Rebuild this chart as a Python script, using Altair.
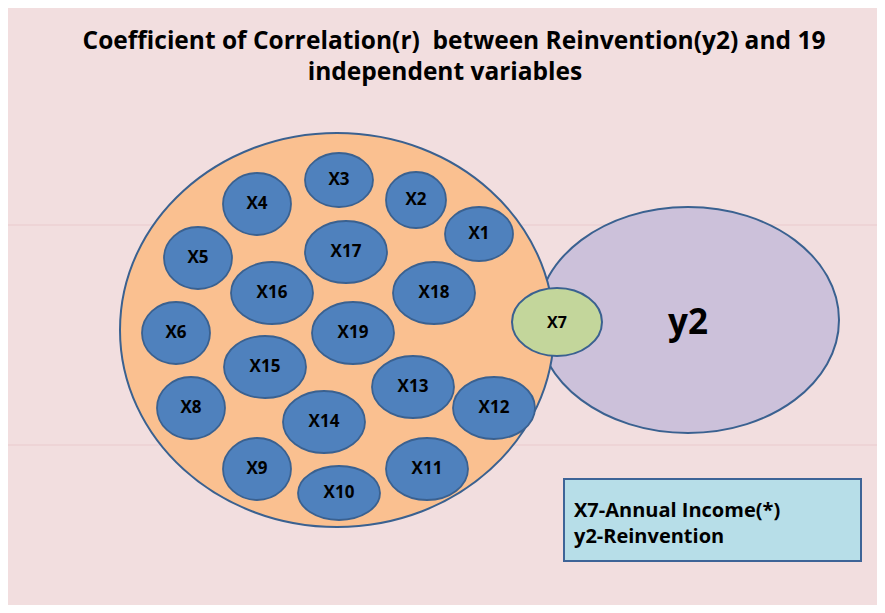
import altair as alt
import pandas as pd

# ---------------- data ----------------
title_lines = ["Coefficient of Correlation(r)\u00a0\u00a0between Reinvention(y2) and 19",
               "independent variables"]
title_x = [454, 445]
title_y = [49, 80]

# small independent-variable ellipses (centre x, centre y, half width, half height)
var_labels = ["X1", "X2", "X3", "X4", "X5", "X6", "X8", "X9", "X10", "X11",
              "X12", "X13", "X14", "X15", "X16", "X17", "X18", "X19"]
var_cx = [479, 416, 339, 257, 198, 176, 191, 257, 339, 427,
          494, 413, 324, 265, 272, 346, 434, 353]
var_cy = [234, 200, 180, 204, 258, 333, 408, 469, 493, 469,
          408, 387, 422, 367, 293, 252, 293, 333]
var_rx = [34, 30, 34, 34, 34, 34, 34, 34, 41, 41,
          41, 41, 41, 41, 41, 41, 41, 41]
var_ry = [27, 28, 27, 31, 31, 31, 31, 31, 27, 31,
          31, 31, 31, 31, 31, 31, 31, 31]

# large shapes
big_names = ["y2", "group", "X7"]
big_cx = [688, 337, 557]
big_cy = [320, 330, 322]
big_rx = [151, 217, 45]
big_ry = [113, 197, 34]
big_fill = ["#CCC1DA", "#FAC090", "#C3D69B"]

big_text = ["y2", "X7"]
big_text_x = [688, 557]
big_text_y = [323, 323]
big_text_size = [35, 16]

legend_lines = ["X7-Annual Income(*)", "y2-Reinvention"]
legend_x = [574, 574]
legend_y = [517, 543]
box_x, box_x2, box_y, box_y2 = 564, 861, 479, 561

rule_y = [225, 445]

# ---------------- helpers ----------------
K = 0.5523


def ellipse_path(k):
    a = K * k
    return (f"M -1 0 C -1 {-a:.4f} {-K} {-k:.4f} 0 {-k:.4f} "
            f"C {K} {-k:.4f} 1 {-a:.4f} 1 0 "
            f"C 1 {a:.4f} {K} {k:.4f} 0 {k:.4f} "
            f"C {-K} {k:.4f} -1 {a:.4f} -1 0 Z")


W, H = 869, 597
X = alt.Scale(domain=[8, 8 + W], nice=False, zero=False)
Y = alt.Scale(domain=[8, 8 + H], nice=False, zero=False, reverse=True)


def xe(f):
    return alt.X(f, type="quantitative", scale=X, axis=None)


def ye(f):
    return alt.Y(f, type="quantitative", scale=Y, axis=None)


FONT = "Open Sans"
STROKE = "#3A6190"

big_df = pd.DataFrame({
    "name": big_names, "cx": big_cx, "cy": big_cy,
    "path": [ellipse_path(ry / rx) for rx, ry in zip(big_rx, big_ry)],
    "size": [4 * rx * rx for rx in big_rx],
})
var_df = pd.DataFrame({
    "label": var_labels, "cx": var_cx, "cy": var_cy,
    "path": [ellipse_path(ry / rx) for rx, ry in zip(var_rx, var_ry)],
    "size": [4 * rx * rx for rx in var_rx],
})

rules = alt.Chart(pd.DataFrame({"y": rule_y})).mark_rule(
    color="#E9CACD", strokeWidth=1.2
).encode(y=ye("y"))

# drawing order: y2, group, X7
big_layers = []
for i in range(len(big_names)):
    big_layers.append(
        alt.Chart(big_df.iloc[[i]]).mark_point(
            filled=True, opacity=1, stroke=STROKE, strokeWidth=2, fill=big_fill[i]
        ).encode(
            x=xe("cx"), y=ye("cy"),
            shape=alt.Shape("path:N", scale=None),
            size=alt.Size("size:Q", scale=None),
        )
    )

vars_ = alt.Chart(var_df).mark_point(
    filled=True, opacity=1, fill="#4F81BD", stroke=STROKE, strokeWidth=1.8
).encode(
    x=xe("cx"), y=ye("cy"),
    shape=alt.Shape("path:N", scale=None),
    size=alt.Size("size:Q", scale=None),
)

var_text = alt.Chart(var_df).mark_text(
    font=FONT, fontWeight="bold", fontSize=17, color="#000000",
    align="center", baseline="middle"
).encode(x=xe("cx"), y=ye("cy"), text="label:N")

bt_df = pd.DataFrame({"t": big_text, "x": big_text_x, "y": big_text_y, "s": big_text_size})
big_txt = alt.Chart(bt_df).mark_text(
    font=FONT, fontWeight="bold", color="#000000", align="center", baseline="middle"
).encode(x=xe("x"), y=ye("y"), text="t:N", size=alt.Size("s:Q", scale=None))

title = alt.Chart(pd.DataFrame({"t": title_lines, "x": title_x, "y": title_y})).mark_text(
    font=FONT, fontWeight="bold", fontSize=24.5, color="#000000",
    align="center", baseline="alphabetic"
).encode(x=xe("x"), y=ye("y"), text="t:N")

box = alt.Chart(pd.DataFrame({"x": [box_x], "x2": [box_x2], "y": [box_y], "y2": [box_y2]})).mark_rect(
    fill="#B7DEE8", stroke="#3E6497", strokeWidth=2
).encode(x=xe("x"), x2="x2", y=ye("y"), y2="y2")

legend = alt.Chart(pd.DataFrame({"t": legend_lines, "x": legend_x, "y": legend_y})).mark_text(
    font=FONT, fontWeight="bold", fontSize=20, color="#000000",
    align="left", baseline="alphabetic"
).encode(x=xe("x"), y=ye("y"), text="t:N")

chart = alt.layer(
    rules, *big_layers, vars_, var_text, big_txt, title, box, legend
).properties(
    width=W, height=H, background="#F2DEDF", padding=0, autosize="none"
).configure_view(stroke=None)

chart.save("out.html", embed_options={"renderer": "svg", "actions": False})
